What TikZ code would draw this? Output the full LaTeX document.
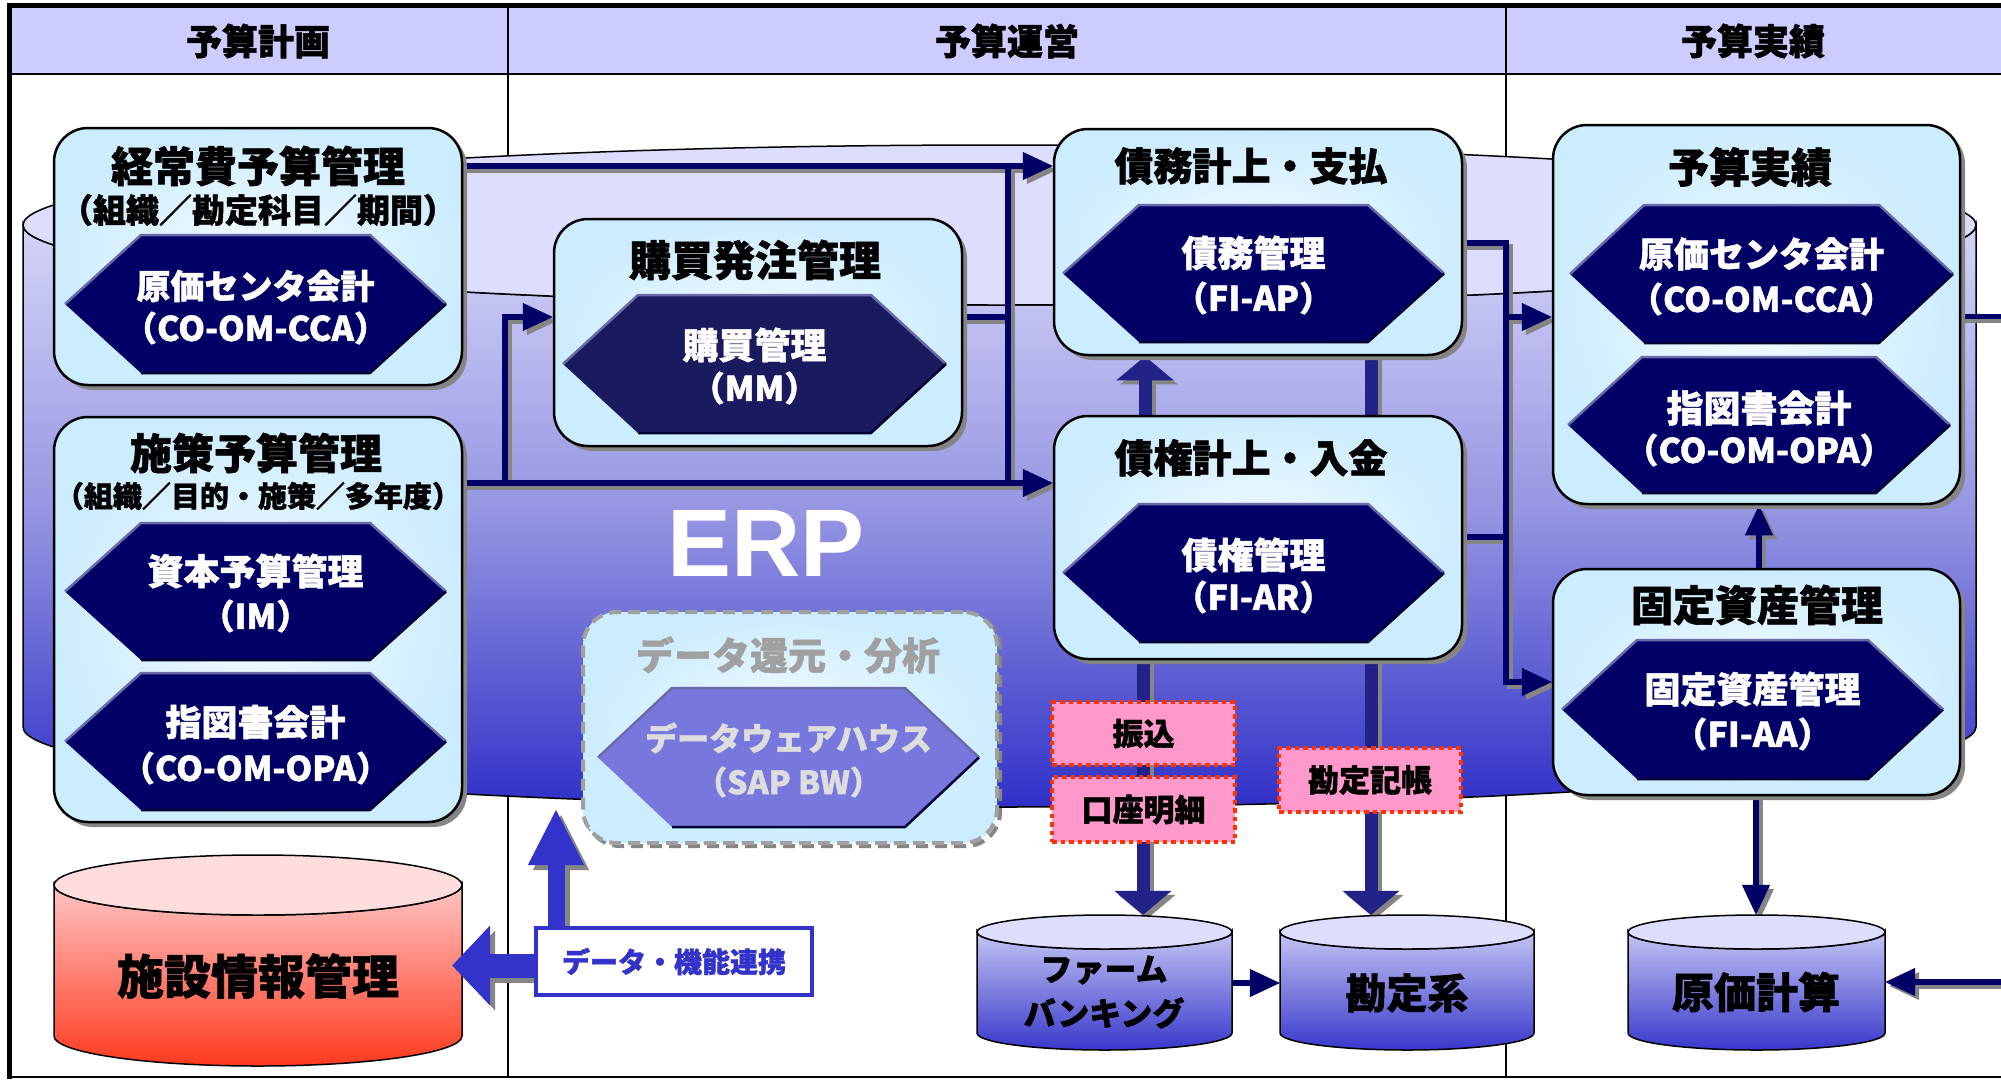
\documentclass[tikz,border=0pt]{standalone}
\usepackage{fontspec}
\setmainfont{Noto Sans CJK JP}[BoldFeatures={FakeBold=1.3}]
\newfontfamily\erpfont{Liberation Sans}
\usetikzlibrary{arrows.meta,shadows,calc}
\definecolor{navy}{HTML}{000066}
\definecolor{navyp}{HTML}{1A1A5E}
\definecolor{navyb}{HTML}{222288}
\definecolor{sgray}{HTML}{858585}
\definecolor{hdrfill}{HTML}{CCCCFF}
\definecolor{boxblue}{HTML}{CCECFF}
\definecolor{boxin}{HTML}{F4FBFF}
\definecolor{hexlight}{HTML}{6A6AAA}
\definecolor{hexdark}{HTML}{000033}
\definecolor{hexdata}{HTML}{7777DD}
\definecolor{datagray}{HTML}{A0A0A0}
\definecolor{datatext}{HTML}{DDDDDD}
\definecolor{linkblue}{HTML}{3333CC}
\definecolor{pinkfill}{HTML}{FF99CC}
\definecolor{pinkline}{HTML}{FF3300}
\definecolor{erptop}{HTML}{DDDDFF}
\definecolor{erpa}{HTML}{D4D4F8}
\definecolor{erpb}{HTML}{9494E2}
\definecolor{erpc}{HTML}{3030C8}
\definecolor{redtop}{HTML}{FFDDDD}
\definecolor{reda}{HTML}{FFC4C4}
\definecolor{redb}{HTML}{FF3A1E}
\definecolor{cyltop}{HTML}{DDDDFF}
\definecolor{cyla}{HTML}{C4C4F4}
\definecolor{cylb}{HTML}{3838CC}

\pgfdeclarelayer{back}
\pgfdeclarelayer{cshadow}
\pgfdeclarelayer{conn}
\pgfdeclarelayer{front}
\pgfsetlayers{back,cshadow,conn,main,front}

\newcommand\setfs[1]{\fontsize{#1pt}{#1pt}\selectfont}

% hexagon: cx, cy, half width, half height, inset, fill
\newcommand\drawhex[6]{%
  \fill[#6] ({#1-#3},#2) -- ({#1-#3+#5},{#2-#4}) -- ({#1+#3-#5},{#2-#4}) -- ({#1+#3},#2) -- ({#1+#3-#5},{#2+#4}) -- ({#1-#3+#5},{#2+#4}) -- cycle;
  \draw[hexlight,line width=2.5pt,line join=round] ({#1-#3},#2) -- ({#1-#3+#5},{#2-#4}) -- ({#1+#3-#5},{#2-#4}) -- ({#1+#3},#2);
  \draw[hexdark,line width=2.5pt,line join=round] ({#1+#3},#2) -- ({#1+#3-#5},{#2+#4}) -- ({#1-#3+#5},{#2+#4});
}

% cylinder: x1, x2, ytop, ybot, ry, top face colour, body shading
\newcommand\drawcyl[7]{%
  \pgfmathsetmacro\cylrx{(#2-#1)/2}%
  \pgfmathsetmacro\cylcx{(#1+#2)/2}%
  \pgfmathsetmacro\cylkx{0.5523*\cylrx}%
  \pgfmathsetmacro\cylky{0.5523*#5}%
  \draw[line width=1.5pt,#7] (#1,#3) -- (#1,#4)
    .. controls (#1,{#4+\cylky}) and ({\cylcx-\cylkx},{#4+#5}) .. (\cylcx,{#4+#5})
    .. controls ({\cylcx+\cylkx},{#4+#5}) and (#2,{#4+\cylky}) .. (#2,#4)
    -- (#2,#3)
    .. controls (#2,{#3+\cylky}) and ({\cylcx+\cylkx},{#3+#5}) .. (\cylcx,{#3+#5})
    .. controls ({\cylcx-\cylkx},{#3+#5}) and (#1,{#3+\cylky}) .. (#1,#3) -- cycle;
  \draw[line width=1.5pt,fill=#6] (\cylcx,#3) ellipse[x radius=\cylrx,y radius=#5];
}

\newcommand\conlink[2]{%
  \begin{pgfonlayer}{cshadow}\draw[#1,draw=sgray,transform canvas={shift={(4pt,-4pt)}}] #2;\end{pgfonlayer}%
  \begin{pgfonlayer}{conn}\draw[#1] #2;\end{pgfonlayer}}

\begin{document}
\begin{tikzpicture}[x=1pt,y=-1pt,
  bluebox/.style={draw=black, line width=2.5pt, rounded corners=34pt, inner color=boxin, outer color=boxblue,
    drop shadow={shadow xshift=5pt, shadow yshift=-5pt, fill=sgray, opacity=1}, inner sep=0pt},
  databox/.style={draw=datagray, line width=4pt, dash pattern=on 12pt off 7pt, rounded corners=34pt,
    inner color=boxin, outer color=boxblue, inner sep=0pt,
    preaction={draw=sgray, line width=4pt, dash pattern=on 12pt off 7pt, transform canvas={shift={(3pt,-3pt)}}}},
  hdrt/.style={font=\bfseries\setfs{36}, inner sep=0pt},
  ttl/.style={font=\bfseries\setfs{#1}, inner sep=0pt, text=black},
  wht/.style={font=\bfseries\setfs{#1}, inner sep=0pt, text=white},
  pinkbox/.style={fill=pinkfill, draw=pinkline, line width=3.5pt, dash pattern=on 4.5pt off 4pt, inner sep=0pt,
    font=\bfseries\setfs{31}},
  linkbox/.style={fill=white, draw=linkblue, line width=4.5pt, inner sep=0pt, text=linkblue,
    font=\bfseries\setfs{28}, minimum width=276pt, minimum height=67pt},
  cylnode/.style={inner sep=0pt, draw=none},
  conn/.style={draw=navy, line width=6pt, line join=miter},
  connthin/.style={draw=navy, line width=5pt},
  connar/.style={draw=navy, line width=6pt, line join=miter, -{Triangle[width=28pt,length=30pt,line width=1pt]}},
  blk/.style={draw=navyb, line width=13pt, -{Triangle[width=57pt,length=24pt,line width=1pt]}},
  linkh/.style={draw=linkblue, line width=24pt, -{Triangle[width=80pt,length=38pt,line width=1pt]}},
  linkv/.style={draw=linkblue, line width=17pt, -{Triangle[width=56pt,length=55pt,line width=1pt]}}
]
\useasboundingbox (0,0) rectangle (2001,1079);

% ---------- frame and header ----------
\begin{pgfonlayer}{back}
\fill[hdrfill] (9,6) rectangle (2001,74);
\draw[line width=2pt] (9,74) -- (2001,74);
\draw[line width=2pt] (508,6) -- (508,1077);
\draw[line width=2pt] (1506,6) -- (1506,1077);
\draw[line width=2.5pt] (9,1077) -- (2001,1077);
\draw[line width=5pt] (9.5,1079) -- (9.5,5.5);
\draw[line width=5pt] (7,5.5) -- (2001,5.5);
% ERP cylinder
\drawcyl{23}{1976}{225}{727}{80}{erptop}{top color=erpa, bottom color=erpc, middle color=erpb}
\end{pgfonlayer}

\node[hdrt] (h1) at (258,41) {予算計画};
\node[hdrt] (h2) at (1007,41) {予算運営};
\node[hdrt] (h3) at (1753,41) {予算実績};

\node[font=\erpfont\bfseries\setfs{96}, text=white, inner sep=0pt] (erp) at (766,543) {ERP};

% ---------- boxes ----------
\node[bluebox, minimum width=408pt, minimum height=257pt] (keijo) at (258,256.5) {};
\node[bluebox, minimum width=408pt, minimum height=405pt] (shisaku) at (258,619.5) {};
\node[bluebox, minimum width=408pt, minimum height=227pt] (kobai) at (758,332.5) {};
\node[bluebox, minimum width=408pt, minimum height=226pt] (saimu) at (1258,242) {};
\node[bluebox, minimum width=408pt, minimum height=243pt] (saiken) at (1258,537.5) {};
\node[bluebox, minimum width=407pt, minimum height=379pt] (yosan) at (1756.5,314.5) {};
\node[bluebox, minimum width=407pt, minimum height=226pt] (kotei) at (1756.5,682) {};
\node[databox, minimum width=414pt, minimum height=231pt] (datab) at (790,727.5) {};

% ---------- hexagons ----------
\drawhex{255.5}{304}{190.5}{69}{76}{navy}
\drawhex{255.5}{591.5}{190.5}{68.5}{76}{navy}
\drawhex{255.5}{741.5}{190.5}{68.5}{76}{navy}
\drawhex{754.5}{364}{191.5}{69}{75}{navyp}
\drawhex{1253.5}{273.5}{190.5}{68.5}{76}{navy}
\drawhex{1253.5}{573}{190.5}{69}{76}{navy}
\drawhex{1761.5}{274}{191.5}{69}{74}{navy}
\drawhex{1759}{425}{191}{68}{74}{navy}
\drawhex{1752.5}{709.5}{190.5}{69.5}{75}{navy}
\drawhex{788.5}{757.5}{190.5}{69.5}{74}{hexdata}

% ---------- texts ----------
\node[ttl=42] (keijot) at (258,166) {経常費予算管理};
\node[ttl=33] (keijos) at (258,210) {（組織／勘定科目／期間）};
\node[wht=34] (keijoh1) at (255.5,286) {原価センタ会計};
\node[wht=34] (keijoh2) at (255.5,328) {（CO-OM-CCA）};

\node[ttl=42] (shisakut) at (256,453) {施策予算管理};
\node[ttl=29] (shisakus) at (258,496) {（組織／目的・施策／多年度）};
\node[wht=36] (shisakuh1) at (255.5,571) {資本予算管理};
\node[wht=34] (shisakuh2) at (255.5,616) {（IM）};
\node[wht=36] (shisakuh3) at (255.5,722) {指図書会計};
\node[wht=34] (shisakuh4) at (255.5,768) {（CO-OM-OPA）};

\node[ttl=42] (kobait) at (755,260) {購買発注管理};
\node[wht=36] (kobaih1) at (754.5,345) {購買管理};
\node[wht=34] (kobaih2) at (754.5,388) {（MM）};

\node[ttl=39] (saimut) at (1251,166) {債務計上・支払};
\node[wht=36] (saimuh1) at (1253.5,253) {債務管理};
\node[wht=34] (saimuh2) at (1253.5,298) {（FI-AP）};

\node[ttl=39] (saikent) at (1251,458) {債権計上・入金};
\node[wht=36] (saikenh1) at (1253.5,555) {債権管理};
\node[wht=34] (saikenh2) at (1253.5,597) {（FI-AR）};

\node[ttl=41] (yosant) at (1750,167) {予算実績};
\node[wht=35] (yosanh1) at (1761.5,254) {原価センタ会計};
\node[wht=34] (yosanh2) at (1761.5,299) {（CO-OM-CCA）};
\node[wht=37] (yosanh3) at (1759,408) {指図書会計};
\node[wht=34] (yosanh4) at (1759,450) {（CO-OM-OPA）};

\node[ttl=42] (koteit) at (1757,605) {固定資産管理};
\node[wht=36] (koteih1) at (1752.5,689) {固定資産管理};
\node[wht=34] (koteih2) at (1752.5,734) {（FI-AA）};

\node[ttl=38, text=datagray] (datat) at (788,655) {データ還元・分析};
\node[ttl=32, text=datatext] (datah1) at (788.5,738) {データウェアハウス};
\node[ttl=32, text=datatext] (datah2) at (788.5,782) {（SAP BW）};

% ---------- pink labels ----------
\node[pinkbox, minimum width=183pt, minimum height=63pt] (furi) at (1143.5,733.5) {振込};
\node[pinkbox, minimum width=183pt, minimum height=65pt] (koza) at (1143.5,809.5) {口座明細};
\node[pinkbox, minimum width=182pt, minimum height=64pt] (kanki) at (1370,780) {勘定記帳};

% ---------- cylinders ----------
\drawcyl{54}{462}{885}{1036}{30}{redtop}{top color=reda, bottom color=redb}
\node[cylnode, minimum width=408pt, minimum height=211pt] (shisetsu) at (258,960.5) {};
\node[ttl=47] (shisetsut) at (258,976) {施設情報管理};

\drawcyl{977}{1232}{932}{1033}{17}{cyltop}{top color=cyla, bottom color=cylb}
\node[cylnode, minimum width=255pt, minimum height=135pt] (firm) at (1104.5,982.5) {};
\node[ttl=32] (firmt1) at (1104,970) {ファーム};
\node[ttl=32] (firmt2) at (1104,1013) {バンキング};

\drawcyl{1280}{1534}{932}{1033}{17}{cyltop}{top color=cyla, bottom color=cylb}
\node[cylnode, minimum width=254pt, minimum height=135pt] (kanjo) at (1407,982.5) {};
\node[ttl=41] (kanjot) at (1407,993) {勘定系};

\drawcyl{1628}{1885}{932}{1033}{17}{cyltop}{top color=cyla, bottom color=cylb}
\node[cylnode, minimum width=257pt, minimum height=135pt] (genka) at (1756.5,982.5) {};
\node[ttl=42] (genkat) at (1756,992) {原価計算};

% ---------- data link ----------
\begin{pgfonlayer}{front}
\node[linkbox] (link) at (674,961.5) {データ・機能連携};
\end{pgfonlayer}
\coordinate (xv) at (556,0);
\coordinate (erpbot) at (556,810);
\draw[linkh, draw=sgray, transform canvas={shift={(5pt,-5pt)}}] ($(link.west)+(0,4)$) -- ($(shisetsu.east |- link.west)+(-10,4)$);
\draw[linkv, draw=sgray, transform canvas={shift={(5pt,-5pt)}}] (link.north -| xv) -- (erpbot);
\draw[linkh] ($(link.west)+(0,4)$) -- ($(shisetsu.east |- link.west)+(-10,4)$);
\draw[linkv] (link.north -| xv) -- (erpbot);

% ---------- connectors ----------
\coordinate (jA) at (1008,166);
\coordinate (jB) at (1008,483);
\coordinate (jC) at (505,483);
\coordinate (jD) at (505,317);
\coordinate (jE) at (1506,243);
\coordinate (jF) at (1506,317);
\coordinate (jG) at (1506,682);
\coordinate (jH) at (1506,537);
\coordinate (rout) at (2003,316);
\coordinate (rin) at (2003,982);
\coordinate (xb1) at (1145,0);
\coordinate (xb2) at (1371,0);
\coordinate (xb3) at (1143,0);
\coordinate (xc7) at (1759,0);
\coordinate (xc8) at (1756,0);
\coordinate (yfk) at (0,983);

\conlink{connar}{(keijo.east |- jA) -- (saimu.west |- jA)}
\conlink{connar}{(shisaku.east |- jB) -- (saiken.west |- jB)}
\conlink{connar}{(jC) -- (jD) -- (kobai.west |- jD)}
\conlink{conn}{(kobai.east |- jD) -- (jD -| jA)}
\conlink{conn}{(jA) -- (jB)}
\conlink{connar}{(saimu.east |- jE) -- (jE) -- (jG) -- (kotei.west |- jG)}
\conlink{connar}{(jF) -- (yosan.west |- jF)}
\conlink{conn}{(saiken.east |- jH) -- (jH)}
\conlink{connthin}{(yosan.east |- rout) -- (rout)}
\conlink{connar}{(kotei.north -| xc7) -- (yosan.south -| xc7)}
\conlink{connar}{(kotei.south -| xc8) -- (genka.north -| xc8)}
\conlink{connar}{(rin) -- (genka.east |- rin)}
\conlink{blk}{(saiken.north -| xb1) -- (saimu.south -| xb1)}
\conlink{blk}{(saimu.south -| xb2) -- (kanjo.north -| xb2)}
\conlink{blk}{(saiken.south -| xb3) -- (firm.north -| xb3)}
\begin{pgfonlayer}{conn}
\draw[connar] (firm.east |- yfk) -- (kanjo.west |- yfk);
\end{pgfonlayer}
\end{tikzpicture}
\end{document}
